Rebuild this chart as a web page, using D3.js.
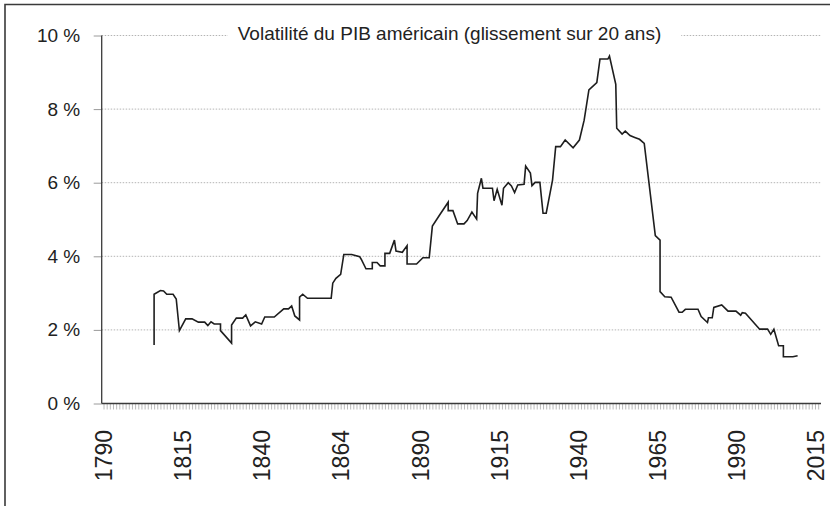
<!DOCTYPE html>
<html>
<head>
<meta charset="utf-8">
<script src="https://cdn.jsdelivr.net/npm/d3@7"></script>
<style>
	body { margin: 0; background: #fff; }
	svg { display: block; font-family: "Liberation Sans", Arial, Helvetica, sans-serif; }
</style>
</head>
<body>
<svg id="chart" width="830" height="506"></svg>
<script>
// ****** Data
var title = 'Volatilité du PIB américain (glissement sur 20 ans)';

// x tick labels, every 25th year slot
var labelYears = [1790, 1815, 1840, 1865, 1890, 1915, 1940, 1965, 1990, 2015];
var labelTexts = ['1790', '1815', '1840', '1864', '1890', '1915', '1940', '1965', '1990', '2015'];

var yTicks = [0, 2, 4, 6, 8, 10];

// vertices of the volatility line: year and value in %
var years = [
	1806, 1806, 1808, 1809, 1810, 1812, 1813, 1814, 1816, 1818,
	1820, 1822, 1823, 1824, 1825, 1827, 1827, 1830.5, 1830.5, 1832,
	1834, 1835, 1836.5, 1838, 1840, 1841, 1844, 1847, 1848.5, 1849.5,
	1850.5, 1852, 1852, 1853, 1854.5, 1862, 1862.5, 1863.5, 1865, 1866,
	1868.5, 1871, 1871.5, 1873, 1875, 1875, 1876.5, 1877.5, 1879, 1879,
	1880.5, 1882, 1882.5, 1884.5, 1886, 1886, 1889, 1891, 1893, 1894,
	1896.5, 1899, 1899, 1900.5, 1902, 1904, 1905, 1906.5, 1908, 1908.3,
	1909.5, 1910, 1913, 1913.5, 1914.5, 1916, 1916.5, 1918, 1919, 1920,
	1921, 1923, 1923.5, 1925, 1925.5, 1926.5, 1928, 1929, 1930, 1932,
	1933, 1934.5, 1936, 1938.5, 1940.5, 1942, 1943.5, 1946, 1947, 1949.5,
	1950, 1952, 1952.3, 1954, 1955, 1956.5, 1958, 1959.5, 1961, 1964.5,
	1966, 1966, 1967.5, 1969.5, 1972, 1973, 1974, 1978, 1979, 1981,
	1981.3, 1982.5, 1983, 1985.5, 1987.5, 1990, 1991.5, 1992, 1993, 1997.5,
	2000, 2001, 2002, 2003.5, 2005, 2005, 2008, 2009.5
];
var values = [
	1.59, 2.97, 3.07, 3.06, 2.97, 2.97, 2.84, 1.98, 2.30, 2.30,
	2.21, 2.21, 2.12, 2.22, 2.16, 2.16, 1.98, 1.64, 2.13, 2.32,
	2.32, 2.41, 2.11, 2.22, 2.16, 2.35, 2.35, 2.57, 2.57, 2.65,
	2.38, 2.27, 2.89, 2.97, 2.86, 2.86, 3.27, 3.40, 3.51, 4.05,
	4.05, 3.99, 3.92, 3.66, 3.66, 3.83, 3.83, 3.74, 3.74, 4.08,
	4.08, 4.44, 4.14, 4.11, 4.29, 3.79, 3.79, 3.96, 3.96, 4.82,
	5.15, 5.47, 5.24, 5.24, 4.88, 4.88, 4.97, 5.20, 5.01, 5.71,
	6.12, 5.85, 5.85, 5.51, 5.82, 5.39, 5.85, 6.00, 5.91, 5.73,
	5.94, 5.96, 6.45, 6.26, 5.92, 6.01, 6.01, 5.17, 5.17, 6.07,
	6.98, 6.98, 7.16, 6.95, 7.16, 7.70, 8.52, 8.72, 9.36, 9.36,
	9.44, 8.67, 7.48, 7.32, 7.40, 7.28, 7.23, 7.18, 7.07, 4.56,
	4.44, 3.04, 2.90, 2.89, 2.48, 2.48, 2.56, 2.56, 2.36, 2.20,
	2.33, 2.33, 2.61, 2.68, 2.51, 2.51, 2.40, 2.47, 2.45, 2.02,
	2.02, 1.88, 2.02, 1.57, 1.57, 1.27, 1.27, 1.30
];

// ****** Layout
var width = 830, height = 506;
var axisX = 101.7,		// left axis position
	axisEnd = 821,		// right end of x axis / gridlines
	plotTop = 35.5,
	plotBottom = 403.5;

var svg = d3.select('#chart');

var x = d3.scaleLinear().domain([1790, 2015]).range([103.5, 815]);
var y = d3.scaleLinear().domain([0, 10]).range([plotBottom, plotTop]);

// frame (top and left only)
svg.append('path')
	.attr('d', 'M5,' + height + 'V4.5H' + width)
	.attr('fill', 'none')
	.attr('stroke', '#3a3a3a')
	.attr('stroke-width', 1.6);

// gridlines
var grid = svg.append('g').attr('class', 'grid');
grid.selectAll('line')
	.data(yTicks.filter(function(d) { return d > 0; }))
	.enter().append('line')
	.attr('x1', axisX)
	.attr('x2', axisEnd)
	.attr('y1', function(d) { return y(d); })
	.attr('y2', function(d) { return y(d); })
	.attr('stroke', '#b4b4b4')
	.attr('stroke-width', 1)
	.attr('stroke-dasharray', '1.5,1.5');

// y axis
var yAxis = d3.axisLeft(y)
	.tickValues(yTicks)
	.tickSize(8)
	.tickPadding(13.5)
	.tickFormat(function(d) { return d + ' %'; });
var yG = svg.append('g')
	.attr('transform', 'translate(' + axisX + ',0)')
	.call(yAxis);
yG.select('.domain').remove();
yG.selectAll('.tick line').attr('stroke', '#9a9a9a').attr('stroke-width', 1);
yG.selectAll('.tick text')
	.attr('fill', '#222')
	.style('font-size', '19px')
	.style('font-family', '"Liberation Sans", Arial, sans-serif');

// minor x ticks, one per year
var xMinor = d3.axisBottom(x)
	.tickValues(d3.range(1790, 2017))
	.tickSize(6)
	.tickFormat('');
var xmG = svg.append('g')
	.attr('transform', 'translate(0,' + plotBottom + ')')
	.call(xMinor);
xmG.select('.domain').remove();
xmG.selectAll('.tick line').attr('stroke', '#a8a8a8').attr('stroke-width', 0.8);

// x labels
var xAxis = d3.axisBottom(x)
	.tickValues(labelYears)
	.tickSize(0)
	.tickFormat(function(d, i) { return labelTexts[i]; });
var xG = svg.append('g')
	.attr('transform', 'translate(0,' + plotBottom + ')')
	.call(xAxis);
xG.select('.domain').remove();
xG.selectAll('.tick text')
	.attr('transform', 'rotate(-90)')
	.attr('x', -26.5)
	.attr('y', 0)
	.attr('dy', '0.36em')
	.attr('text-anchor', 'end')
	.attr('fill', '#222')
	.style('font-size', '23px')
	.style('font-family', '"Liberation Sans", Arial, sans-serif');

// axis lines
svg.append('line')
	.attr('x1', axisX).attr('x2', axisEnd)
	.attr('y1', plotBottom).attr('y2', plotBottom)
	.attr('stroke', '#3a3a3a').attr('stroke-width', 1.3);
svg.append('line')
	.attr('x1', axisX).attr('x2', axisX)
	.attr('y1', plotTop).attr('y2', plotBottom)
	.attr('stroke', '#3a3a3a').attr('stroke-width', 1.3);

// title sits on the top gridline with a white box behind
var titleG = svg.append('g');
var titleText = titleG.append('text')
	.attr('x', 449.5)
	.attr('y', 40)
	.attr('text-anchor', 'middle')
	.attr('fill', '#222')
	.style('font-size', '19px')
	.text(title);
var bb = titleText.node().getBBox();
titleG.insert('rect', 'text')
	.attr('x', bb.x - 10)
	.attr('y', bb.y)
	.attr('width', bb.width + 30)
	.attr('height', bb.height)
	.attr('fill', '#fff');

// the line
var pts = years.map(function(d, i) { return [d, values[i]]; });
var line = d3.line()
	.x(function(d) { return x(d[0]); })
	.y(function(d) { return y(d[1]); });
svg.append('path')
	.datum(pts)
	.attr('d', line)
	.attr('fill', 'none')
	.attr('stroke', '#1e1e1e')
	.attr('stroke-width', 1.6)
	.attr('stroke-linejoin', 'miter');
</script>
</body>
</html>
